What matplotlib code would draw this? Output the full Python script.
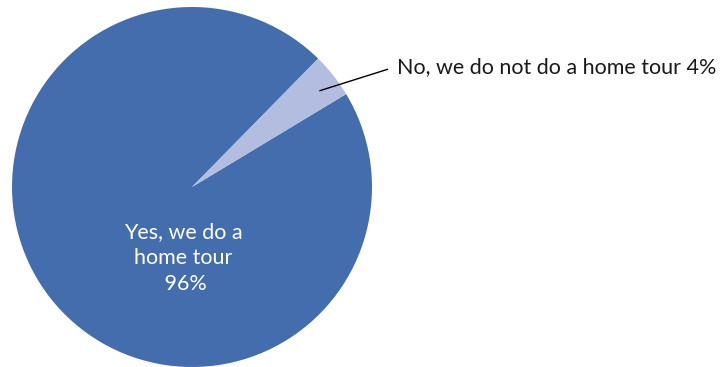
import matplotlib
matplotlib.use("Agg")
import matplotlib.pyplot as plt

categories = ["Yes, we do a\nhome tour", "No, we do not do a home tour"]
values = [96, 4]
colors = ["#436DAD", "#B3BDE0"]

plt.rcParams["font.family"] = ["Lato", "DejaVu Sans"]

fig = plt.figure(figsize=(7.2, 3.67), dpi=100)
ax = fig.add_axes([12 / 720, 0, 360 / 720, 360 / 367])

wedges, _ = ax.pie(values, colors=colors, startangle=45.5, counterclock=True,
                   radius=1.0, wedgeprops=dict(linewidth=0))
ax.set_xlim(-1, 1)
ax.set_ylim(-1, 1)
ax.set_aspect("equal")
ax.axis("off")

# inside label for the large slice
ax.text(-0.05, -0.395, f"{categories[0]}\n {values[0]}%", ha="center", va="center",
        color="white", fontsize=15.5, fontweight="normal", linespacing=1.38)

# callout for the small slice
ax.annotate(f"{categories[1]} {values[1]}%", xy=(0.71, 0.535), xytext=(1.14, 0.665),
            ha="left", va="center", fontsize=15.5, fontweight="normal", color="#1a1a1a",
            arrowprops=dict(arrowstyle="-", color="black", lw=1.0,
                            shrinkA=0, shrinkB=0, relpos=(-0.03, 0.4)),
            annotation_clip=False)

fig.savefig("out.png", dpi=100)
